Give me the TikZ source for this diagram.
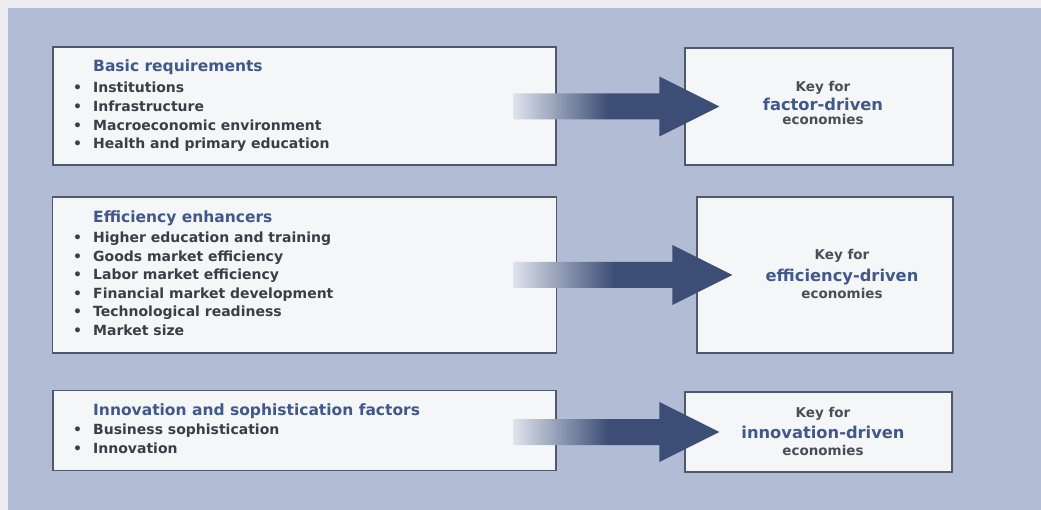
\documentclass[tikz,border=0pt]{standalone}
\usepackage{fontspec}
\setmainfont{DejaVu Sans}
\usetikzlibrary{calc}
\definecolor{panel}{RGB}{178,188,212}
\definecolor{paper}{RGB}{236,237,241}
\definecolor{boxfill}{RGB}{245,246,248}
\definecolor{boxline}{RGB}{78,88,110}
\definecolor{titleblue}{RGB}{64,88,138}
\definecolor{itemgray}{RGB}{58,62,72}
\definecolor{keygray}{RGB}{74,78,88}
\definecolor{arrowlight}{RGB}{222,227,237}
\definecolor{arrowdark}{RGB}{60,78,118}
\pgfdeclarehorizontalshading{arrowshade}{100bp}{color(0bp)=(arrowlight); color(25bp)=(arrowlight); color(48bp)=(arrowdark); color(100bp)=(arrowdark)}
\tikzset{
  boxnode/.style={draw=boxline, line width=1.2pt, fill=boxfill, inner sep=0pt},
  titletext/.style={anchor=base west, inner sep=0pt, text=titleblue, font=\bfseries\fontsize{15.5}{18}\selectfont},
  itemtext/.style={anchor=base west, inner sep=0pt, text=itemgray, font=\bfseries\fontsize{14}{16}\selectfont},
  keytext/.style={anchor=base, inner sep=0pt, text=keygray, font=\bfseries\fontsize{13.5}{15}\selectfont},
  drivetext/.style={anchor=base, inner sep=0pt, text=titleblue, font=\bfseries\fontsize{16.3}{19}\selectfont},
}
\newcommand\bigarrowconn[2]{%
  \shade[shading=arrowshade] let \p1=(#1), \p2=(#2) in
    (\x1,{\y1+13pt}) -- ({\x2-60pt},{\y1+13pt}) -- ({\x2-60pt},{\y1+30pt}) -- (\x2,\y1)
    -- ({\x2-60pt},{\y1-30pt}) -- ({\x2-60pt},{\y1-13pt}) -- (\x1,{\y1-13pt}) -- cycle;}
\newcommand\bl{\makebox[20pt][l]{•}}
\begin{document}
\begin{tikzpicture}[x=1pt,y=-1pt]
\useasboundingbox (0,0) rectangle (1041,510);
\fill[paper] (0,0) rectangle (1041,510);
\fill[panel] (8,8) rectangle (1041,510);

% left boxes
\node[boxnode, minimum width=503pt, minimum height=118pt] (b1) at (304.5,106) {};
\node[boxnode, minimum width=504pt, minimum height=156pt] (b2) at (304.5,275) {};
\node[boxnode, minimum width=503pt, minimum height=80pt] (b3) at (304.5,430.5) {};
% right boxes
\node[boxnode, minimum width=268pt, minimum height=117pt] (k1) at (819,106.5) {};
\node[boxnode, minimum width=256pt, minimum height=156pt] (k2) at (825,275) {};
\node[boxnode, minimum width=267pt, minimum height=80pt] (k3) at (818.5,432) {};

% arrows
\coordinate (s1) at ([xshift=-43pt]b1.east);
\coordinate (t1) at ([xshift=35pt]k1.west);
\coordinate (s2) at ([xshift=-44pt]b2.east);
\coordinate (t2) at ([xshift=36pt]k2.west);
\coordinate (s3) at ([xshift=-43pt]b3.east);
\coordinate (t3) at ([xshift=35pt]k3.west);
\bigarrowconn{s1 |- t1}{t1}
\bigarrowconn{s2 |- t2}{t2}
\bigarrowconn{s3 |- t3}{t3}

% box 1 text
\node[titletext] (b1t) at (93,72) {Basic requirements};
\node[itemtext] (b1i1) at (73,93) {\bl Institutions};
\node[itemtext] (b1i2) at (73,111.5) {\bl Infrastructure};
\node[itemtext] (b1i3) at (73,130.5) {\bl Macroeconomic environment};
\node[itemtext] (b1i4) at (73,149) {\bl Health and primary education};

% box 2 text
\node[titletext] (b2t) at (93,222.5) {Efficiency enhancers};
\node[itemtext] (b2i1) at (73,242.5) {\bl Higher education and training};
\node[itemtext] (b2i2) at (73,261.1) {\bl Goods market efficiency};
\node[itemtext] (b2i3) at (73,279.7) {\bl Labor market efficiency};
\node[itemtext] (b2i4) at (73,298.3) {\bl Financial market development};
\node[itemtext] (b2i5) at (73,316.9) {\bl Technological readiness};
\node[itemtext] (b2i6) at (73,335.5) {\bl Market size};

% box 3 text
\node[titletext] (b3t) at (93,415.5) {Innovation and sophistication factors};
\node[itemtext] (b3i1) at (73,434.5) {\bl Business sophistication};
\node[itemtext] (b3i2) at (73,453) {\bl Innovation};

% right box texts
\node[keytext] (k1a) at (823,91.5) {Key for};
\node[drivetext] (k1b) at (823,110.5) {factor-driven};
\node[keytext] (k1c) at (823,125) {economies};

\node[keytext] (k2a) at (842,259.5) {Key for};
\node[drivetext] (k2b) at (842,282) {efficiency-driven};
\node[keytext] (k2c) at (842,298.5) {economies};

\node[keytext] (k3a) at (823,417.5) {Key for};
\node[drivetext] (k3b) at (823,438.5) {innovation-driven};
\node[keytext] (k3c) at (823,455.5) {economies};
\end{tikzpicture}
\end{document}
